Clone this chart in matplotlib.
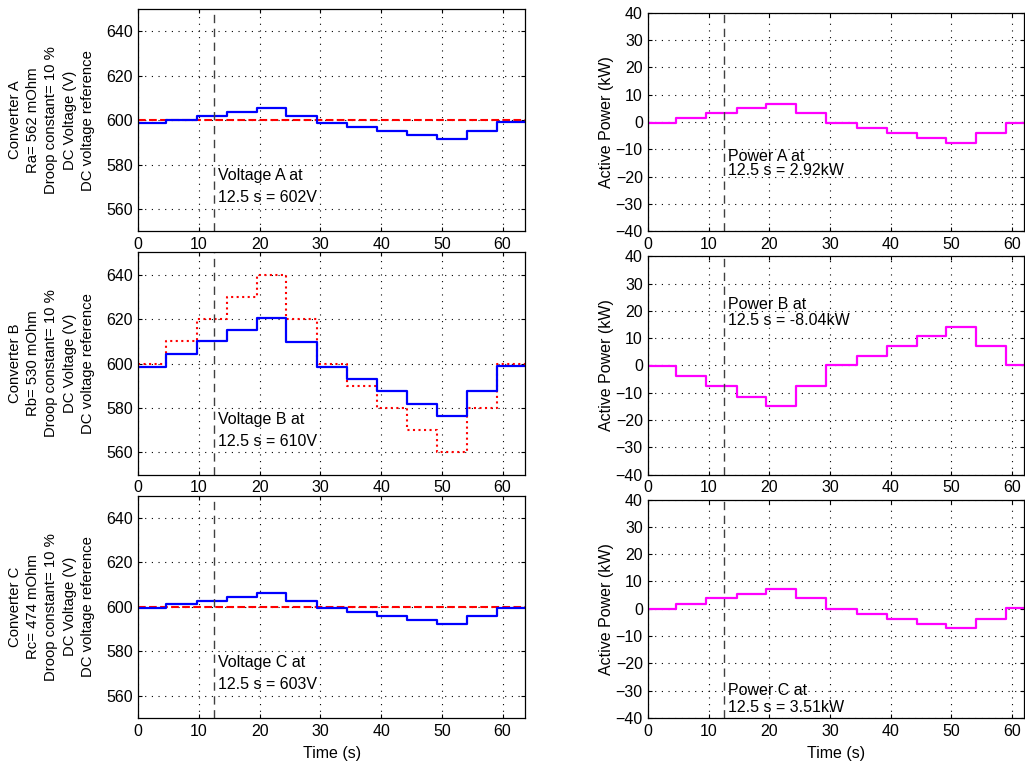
import matplotlib
matplotlib.use("Agg")
import matplotlib.pyplot as plt

plt.rcParams['font.family'] = ['Liberation Sans', 'DejaVu Sans']
plt.rcParams['font.size'] = 11.5

# step change times (s)
step_times = [0, 4.6, 9.6, 14.6, 19.5, 24.4, 29.4, 34.4, 39.4, 44.3, 49.2, 54.1, 59.1]

# DC voltage references (V)
ref_A = [600] * 13
ref_B = [600, 610, 620, 630, 640, 620, 600, 590, 580, 570, 560, 580, 600]
ref_C = [600] * 13

# measured DC voltages (V)
volt_A = [598.7, 600.3, 601.8, 603.5, 605.3, 601.8, 598.8, 596.9, 595.1, 593.2, 591.7, 595.1, 599.1]
volt_B = [598.5, 604.5, 610.0, 615.0, 620.6, 609.8, 598.5, 593.2, 587.5, 582.0, 576.4, 587.5, 599.0]
volt_C = [599.3, 601.2, 602.7, 604.4, 606.2, 602.7, 599.3, 597.5, 595.9, 594.1, 592.4, 596.0, 599.7]

# active power (kW)
pow_A = [-0.3, 1.5, 3.4, 5.0, 6.6, 3.4, -0.2, -2.0, -3.9, -5.8, -7.6, -3.9, -0.2]
pow_B = [-0.2, -4.0, -7.6, -11.5, -15.0, -7.6, 0.0, 3.3, 7.0, 10.7, 13.9, 7.0, 0.0]
pow_C = [0.0, 1.8, 3.8, 5.5, 7.2, 3.8, 0.0, -1.8, -3.7, -5.4, -7.2, -3.7, 0.3]

names = ['A', 'B', 'C']
resist = ['Ra= 562 mOhm', 'Rb= 530 mOhm', 'Rc= 474 mOhm']
volt_text = ['602V', '610V', '603V']
pow_text = ['2.92kW', '-8.04kW', '3.51kW']
pow_text_y = [(-12.5, -17.7), (22.3, 16.5), (-30.1, -36.0)]

refs = [ref_A, ref_B, ref_C]
volts = [volt_A, volt_B, volt_C]
pows = [pow_A, pow_B, pow_C]

t_marker = 12.5
left_xmax = 63.7
right_xmax = 62

fig = plt.figure(figsize=(10.25, 7.65), dpi=100)

bottoms = [0.6976, 0.3795, 0.0614]
lh = 0.2906
rh = 0.2856

grid_kw = dict(color='black', linestyle=(0, (1, 5)), linewidth=0.8)
FS = 11.5


def style(ax):
    ax.tick_params(direction='in', top=True, right=True, length=3, width=0.8,
                   labelsize=FS, pad=4)
    for s in ax.spines.values():
        s.set_linewidth(0.9)
    ax.grid(True, **grid_kw)


def ext(vals, xmax):
    return step_times + [xmax], list(vals) + [vals[-1]]

for i in range(3):
    # voltage axes
    ax = fig.add_axes([0.1349, bottoms[i], 0.3773, lh])
    tx, ry = ext(refs[i], left_xmax)
    if i == 1:
        ax.step(tx, ry, where='post', color='red', linestyle=':', linewidth=1.5)
    else:
        ax.step(tx, ry, where='post', color='red', linestyle='--', linewidth=1.5)
    tx, vy = ext(volts[i], left_xmax)
    ax.step(tx, vy, where='post', color='blue', linewidth=1.6)
    ax.axvline(t_marker, color='#404040', linestyle=(0, (6, 4)), linewidth=1.0)
    ax.set_xlim(0, left_xmax)
    ax.set_ylim(550, 650)
    ax.set_yticks([560, 580, 600, 620, 640])
    ax.set_xticks([0, 10, 20, 30, 40, 50, 60])
    ax.text(13.2, 575, 'Voltage %s at' % names[i], va='center', ha='left', fontsize=FS)
    ax.text(13.2, 565, '12.5 s = %s' % volt_text[i], va='center', ha='left', fontsize=FS)
    ax.set_ylabel('Converter %s\n%s\nDroop constant= 10 %%\nDC Voltage (V)\nDC voltage reference'
                  % (names[i], resist[i]), fontsize=10.7, linespacing=1.38, labelpad=8)
    style(ax)
    if i == 2:
        ax.set_xlabel('Time (s)', fontsize=FS, labelpad=5)

    # power axes
    ax2 = fig.add_axes([0.6325, bottoms[i], 0.3665, rh])
    tx, py = ext(pows[i], right_xmax)
    ax2.step(tx, py, where='post', color='magenta', linewidth=1.6)
    ax2.axvline(t_marker, color='#404040', linestyle=(0, (6, 4)), linewidth=1.0)
    ax2.set_xlim(0, right_xmax)
    ax2.set_ylim(-40, 40)
    ax2.set_yticks(list(range(-40, 41, 10)))
    ax2.set_xticks([0, 10, 20, 30, 40, 50, 60])
    ax2.text(13.1, pow_text_y[i][0], 'Power %s at' % names[i], va='center', ha='left', fontsize=FS)
    ax2.text(13.1, pow_text_y[i][1], '12.5 s = %s' % pow_text[i], va='center', ha='left', fontsize=FS)
    ax2.set_ylabel('Active Power (kW)', fontsize=FS, labelpad=1)
    style(ax2)
    if i == 2:
        ax2.set_xlabel('Time (s)', fontsize=FS, labelpad=5)

fig.savefig('out.png', dpi=100)
